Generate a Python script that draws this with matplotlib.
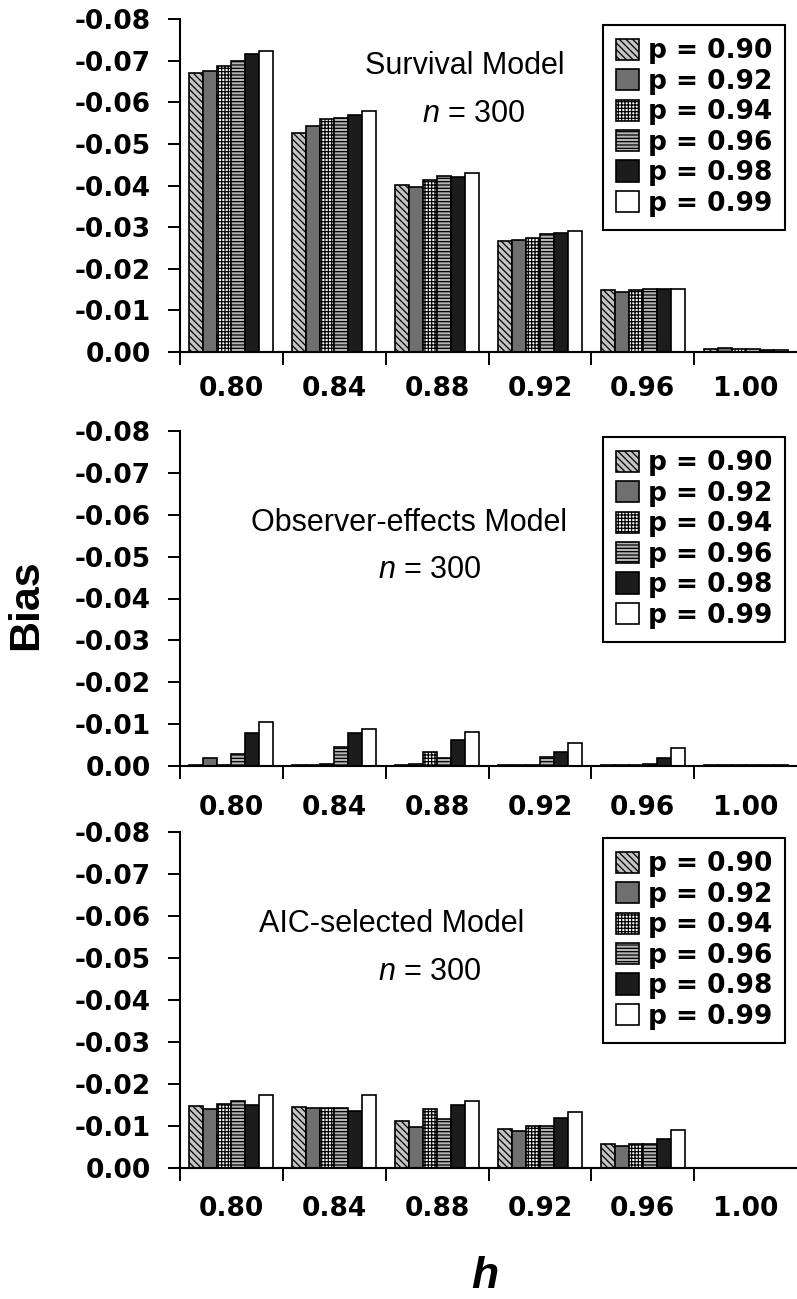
import matplotlib
matplotlib.use("Agg")
import matplotlib.pyplot as plt
import numpy as np

plt.rcParams['mathtext.fontset'] = 'custom'
plt.rcParams['mathtext.rm'] = 'Liberation Sans'
plt.rcParams['mathtext.it'] = 'Liberation Sans:italic'
plt.rcParams['hatch.linewidth'] = 0.9

h_labels = ['0.80', '0.84', '0.88', '0.92', '0.96', '1.00']
p_labels = ['p = 0.90', 'p = 0.92', 'p = 0.94', 'p = 0.96', 'p = 0.98', 'p = 0.99']

# Survival model, one list per p, values across h
surv_p90 = [-0.0670, -0.0527, -0.0401, -0.0267, -0.0148, -0.0008]
surv_p92 = [-0.0676, -0.0542, -0.0396, -0.0269, -0.0145, -0.0010]
surv_p94 = [-0.0688, -0.0559, -0.0413, -0.0275, -0.0148, -0.0008]
surv_p96 = [-0.0700, -0.0562, -0.0424, -0.0283, -0.0151, -0.0007]
surv_p98 = [-0.0716, -0.0570, -0.0421, -0.0287, -0.0151, -0.0006]
surv_p99 = [-0.0724, -0.0580, -0.0430, -0.0291, -0.0152, -0.0005]

# Observer-effects model
obs_p90 = [-0.0002, -0.0003, -0.0003, -0.0002, -0.0002, -0.0002]
obs_p92 = [-0.0019, -0.0003, -0.0004, -0.0003, -0.0002, -0.0002]
obs_p94 = [-0.0003, -0.0004, -0.0034, -0.0003, -0.0003, -0.0002]
obs_p96 = [-0.0028, -0.0046, -0.0020, -0.0022, -0.0004, -0.0002]
obs_p98 = [-0.0078, -0.0080, -0.0061, -0.0034, -0.0020, -0.0002]
obs_p99 = [-0.0104, -0.0089, -0.0082, -0.0054, -0.0044, -0.0002]

# AIC-selected model
aic_p90 = [-0.0148, -0.0145, -0.0113, -0.0093, -0.0056, -0.0001]
aic_p92 = [-0.0140, -0.0144, -0.0098, -0.0089, -0.0053, -0.0001]
aic_p94 = [-0.0152, -0.0143, -0.0140, -0.0100, -0.0057, -0.0001]
aic_p96 = [-0.0160, -0.0144, -0.0117, -0.0100, -0.0058, -0.0001]
aic_p98 = [-0.0150, -0.0136, -0.0149, -0.0120, -0.0068, -0.0001]
aic_p99 = [-0.0173, -0.0175, -0.0160, -0.0133, -0.0090, -0.0001]

panels = [
    ('Survival Model', [surv_p90, surv_p92, surv_p94, surv_p96, surv_p98, surv_p99]),
    ('Observer-effects Model', [obs_p90, obs_p92, obs_p94, obs_p96, obs_p98, obs_p99]),
    ('AIC-selected Model', [aic_p90, aic_p92, aic_p94, aic_p96, aic_p98, aic_p99]),
]

faces = ['#c4c4c4', '#6f6f6f', 'white', '#b4b4b4', '#1c1c1c', 'white']
hatches = ['\\\\\\\\\\', None, '+++++', '-----', None, None]

W, H = 797, 1299
fig = plt.figure(figsize=(W / 100, H / 100), dpi=100)

# pixel boxes: (top, bottom) of each axes, label pad, title/n positions
tops = [19, 431, 832]
bottoms = [352, 766, 1168]
pads = [17, 21, 20]
title_xy = [(465, 66), (409, 523), (392, 924)]
n_xy = [(474, 114), (430, 570), (430, 972)]

bw = 0.136
x = np.arange(len(h_labels))
tick_font = dict(family='DejaVu Sans', weight='bold', size=19)

for k, (title, series) in enumerate(panels):
    ax = fig.add_axes([180 / W, 1 - bottoms[k] / H, 617 / W, (bottoms[k] - tops[k]) / H])
    handles = []
    for j, vals in enumerate(series):
        b = ax.bar(x + (j - 2.5) * bw, vals, bw, color=faces[j], edgecolor='black',
                   linewidth=1.2, hatch=hatches[j], label=p_labels[j])
        handles.append(b)
    ax.set_xlim(-0.5, 5.5)
    ax.set_ylim(0, -0.08)
    ax.set_yticks(np.arange(0, -0.081, -0.01))
    ax.set_yticklabels(['%.2f' % v if v < -0.001 else '0.00' for v in np.arange(0, -0.081, -0.01)],
                       fontdict=tick_font)
    ax.set_xticks(np.arange(-0.5, 5.0, 1.0))
    ax.set_xticklabels([])
    ax.set_xticks(x, minor=True)
    ax.set_xticklabels(h_labels, minor=True, fontdict=tick_font)
    ax.tick_params(axis='x', which='minor', length=0, pad=pads[k])
    ax.tick_params(axis='x', which='major', length=9, width=1.4, direction='out')
    ax.tick_params(axis='y', length=9, width=1.4, direction='out', pad=12)
    for s in ['top', 'right']:
        ax.spines[s].set_visible(False)
    for s in ['left', 'bottom']:
        ax.spines[s].set_linewidth(1.5)

    fig.text(title_xy[k][0] / W, 1 - title_xy[k][1] / H, title, family='Liberation Sans',
             size=22, ha='center', va='center')
    fig.text(n_xy[k][0] / W, 1 - n_xy[k][1] / H, '$n$ = 300', family='Liberation Sans',
             size=22, ha='center', va='center')

    leg = ax.legend(handles=handles, loc='upper left',
                    bbox_to_anchor=(603 / W, 1 - (tops[k] + 6) / H),
                    bbox_transform=fig.transFigure, borderaxespad=0,
                    prop=dict(family='DejaVu Sans', weight='bold', size=19),
                    handlelength=0.85, handleheight=0.85, handletextpad=0.35,
                    labelspacing=0.17, borderpad=0.5, fancybox=False,
                    framealpha=1, edgecolor='black')
    leg.get_frame().set_linewidth(1.5)

fig.text(26 / W, 1 - 605 / H, 'Bias', family='Liberation Sans', weight='bold', size=31,
         rotation=90, ha='center', va='center')
fig.text(485 / W, 1 - 1276 / H, 'h', family='Liberation Sans', weight='bold', style='italic',
         size=32, ha='center', va='center')

fig.savefig('out.png', dpi=100)
